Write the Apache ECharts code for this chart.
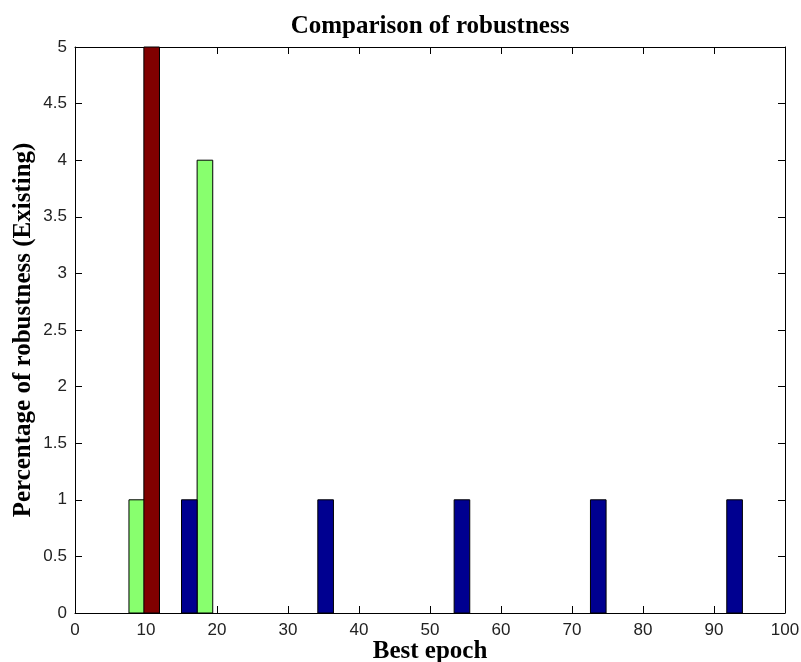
<!DOCTYPE html>
<html>
<head>
<meta charset="utf-8">
<script src="https://cdn.jsdelivr.net/npm/echarts@6/dist/echarts.min.js"></script>
<style>
  html, body { margin: 0; padding: 0; background: #fff; }
  #chart { width: 801px; height: 662px; }
</style>
</head>
<body>
<div id="chart"></div>
<script>
// Bin centres (epoch) and counts for each group of bars
const greenCenters = [8.7, 18.3];
const greenCounts = [1, 4];
const redCenters = [10.8];
const redCounts = [5];
const blueCenters = [16.1, 35.3, 54.5, 73.7, 92.9];
const blueCounts = [1, 1, 1, 1, 1];
const barWidthUnits = 2.2;

const xTicks = [0, 10, 20, 30, 40, 50, 60, 70, 80, 90, 100];
const yTicks = [0, 0.5, 1, 1.5, 2, 2.5, 3, 3.5, 4, 4.5, 5];

function rectSeries(centers, counts, color) {
  return {
    type: 'custom',
    data: centers.map((c, i) => [c, counts[i]]),
    renderItem: function (params, api) {
      const c = api.value(0), h = api.value(1);
      const p0 = api.coord([c - barWidthUnits / 2, 0]);
      const p1 = api.coord([c + barWidthUnits / 2, h]);
      return {
        type: 'rect',
        shape: { x: p0[0], y: p1[1], width: p1[0] - p0[0], height: p0[1] - p1[1] },
        style: { fill: color, stroke: '#000', lineWidth: 1 }
      };
    },
    encode: { x: 0, y: 1 },
    z: 2
  };
}

const axisFont = { fontFamily: 'Liberation Sans, Arial, sans-serif', fontSize: 17, color: '#222' };
const titleFont = { fontFamily: 'Liberation Serif, Times New Roman, serif', fontWeight: 'bold', color: '#000' };

const chart = echarts.init(document.getElementById('chart'));
chart.setOption({
  animation: false,
  backgroundColor: '#fff',
  title: {
    text: 'Comparison of robustness',
    left: 425, top: 9, textAlign: 'center',
    textStyle: Object.assign({ fontSize: 25 }, titleFont)
  },
  grid: { left: 75, right: 16, top: 47, bottom: 49, show: false, containLabel: false, outerBoundsMode: 'none' },
  xAxis: [{
    type: 'value', min: xTicks[0], max: xTicks[xTicks.length - 1], interval: 10,
    name: 'Best epoch', nameLocation: 'middle', nameGap: 26, nameMoveOverlap: false,
    nameTextStyle: Object.assign({ fontSize: 25 }, titleFont),
    axisLine: { show: true, onZero: false, lineStyle: { color: '#000', width: 1 } },
    axisTick: { show: true, inside: true, length: 7, lineStyle: { color: '#000' } },
    axisLabel: Object.assign({ margin: 9 }, axisFont),
    splitLine: { show: false }
  }, {
    type: 'value', position: 'top', min: xTicks[0], max: xTicks[xTicks.length - 1], interval: 10,
    axisLine: { show: true, onZero: false, lineStyle: { color: '#000', width: 1 } },
    axisTick: { show: true, inside: true, length: 7, lineStyle: { color: '#000' } },
    axisLabel: { show: false },
    splitLine: { show: false }
  }],
  yAxis: [{
    type: 'value', min: yTicks[0], max: yTicks[yTicks.length - 1], interval: 0.5,
    name: 'Percentage of robustness (Existing)', nameLocation: 'middle', nameGap: 39, nameMoveOverlap: false,
    nameTextStyle: Object.assign({ fontSize: 25 }, titleFont),
    axisLine: { show: true, onZero: false, lineStyle: { color: '#000', width: 1 } },
    axisTick: { show: true, inside: true, length: 7, lineStyle: { color: '#000' } },
    axisLabel: Object.assign({ margin: 8 }, axisFont),
    splitLine: { show: false }
  }, {
    type: 'value', position: 'right', min: yTicks[0], max: yTicks[yTicks.length - 1], interval: 0.5,
    axisLine: { show: true, onZero: false, lineStyle: { color: '#000', width: 1 } },
    axisTick: { show: true, inside: true, length: 7, lineStyle: { color: '#000' } },
    axisLabel: { show: false },
    splitLine: { show: false }
  }],
  series: [
    rectSeries(greenCenters, greenCounts, '#88ff6e'),
    rectSeries(redCenters, redCounts, '#800000'),
    rectSeries(blueCenters, blueCounts, '#000090')
  ]
});
</script>
</body>
</html>
